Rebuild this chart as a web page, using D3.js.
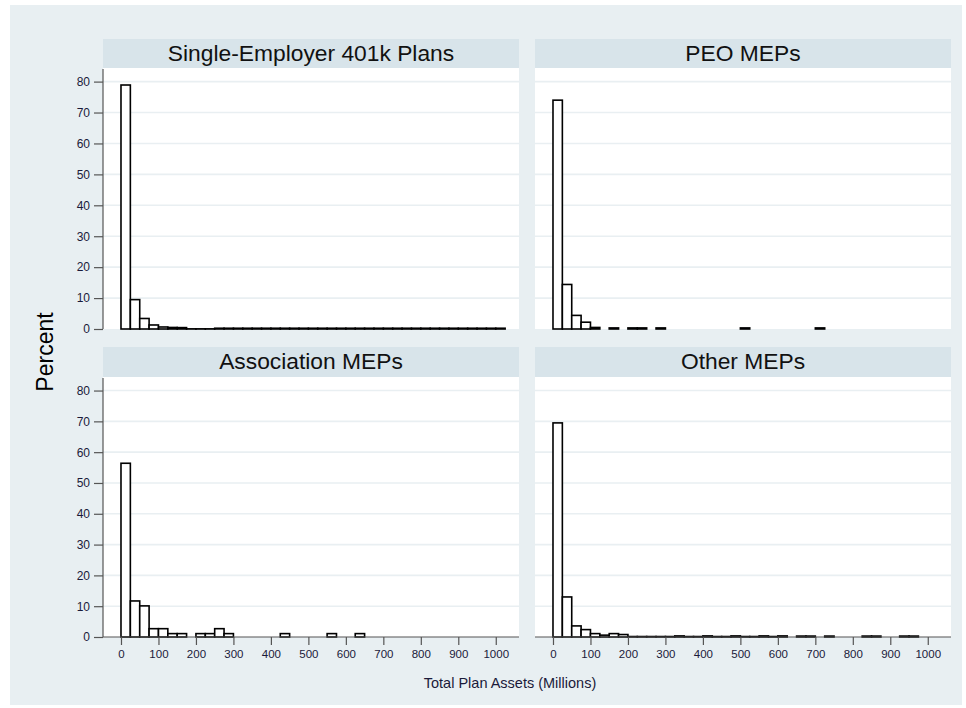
<!DOCTYPE html>
<html>
<head>
<meta charset="utf-8">
<script src="https://cdn.jsdelivr.net/npm/d3@7"></script>
<style>
  html, body { margin: 0; padding: 0; background: #ffffff; }
  svg { display: block; font-family: "Liberation Sans", Arial, sans-serif; }
</style>
</head>
<body>
<svg id="chart" width="966" height="708"></svg>
<script>
// ---- data (percent of plans per 25-million bin, starting at 0) ----
const binWidth = 25;
const panelTitles = ["Single-Employer 401k Plans", "PEO MEPs", "Association MEPs", "Other MEPs"];
const singleEmployer = [78.9, 9.5, 3.4, 1.3, 0.65, 0.5, 0.45, 0.05, 0.05, 0.05,
  0.25, 0.25, 0.25, 0.25, 0.25, 0.25, 0.25, 0.25, 0.25, 0.25,
  0.25, 0.25, 0.25, 0.25, 0.25, 0.25, 0.25, 0.25, 0.25, 0.25,
  0.25, 0.25, 0.25, 0.25, 0.25, 0.25, 0.25, 0.25, 0.25, 0.25, 0.25];
const peoMEPs = [74.0, 14.4, 4.4, 2.2, 0.5, 0, 0.35, 0, 0.35, 0.35,
  0, 0.35, 0, 0, 0, 0, 0, 0, 0, 0,
  0.35, 0, 0, 0, 0, 0, 0, 0, 0.35];
const associationMEPs = [56.4, 11.7, 10.1, 2.7, 2.7, 1.1, 1.1, 0, 1.1, 1.1,
  2.7, 1.1, 0, 0, 0, 0, 0, 1.1, 0, 0,
  0, 0, 1.1, 0, 0, 1.1];
const otherMEPs = [69.5, 13.0, 3.6, 2.4, 1.1, 0.6, 1.1, 0.8, 0.15, 0.15,
  0.15, 0.15, 0.15, 0.35, 0.15, 0.15, 0.35, 0.15, 0.15, 0.35,
  0.15, 0.15, 0.35, 0.15, 0.35, 0, 0.3, 0.3, 0, 0.3,
  0, 0, 0, 0.3, 0.3, 0, 0, 0.3, 0.3];
const yTicks = [0, 10, 20, 30, 40, 50, 60, 70, 80];
const xTicks = [0, 100, 200, 300, 400, 500, 600, 700, 800, 900, 1000];
const yAxisTitle = "Percent";
const xAxisTitle = "Total Plan Assets (Millions)";

// ---- layout ----
const svg = d3.select("#chart");
const bgColor = "#e8eff2", stripColor = "#d8e4ea", gridColor = "#e9eff2";

svg.append("rect").attr("x", 10).attr("y", 5).attr("width", 952).attr("height", 700).attr("fill", bgColor);

const panelW = 416;
const panels = [
  { title: panelTitles[0], data: singleEmployer, x0: 103, stripY: 39, y0: 68, h: 261, showY: true, showX: false },
  { title: panelTitles[1], data: peoMEPs, x0: 535, stripY: 39, y0: 68, h: 261, showY: false, showX: false },
  { title: panelTitles[2], data: associationMEPs, x0: 103, stripY: 347, y0: 377, h: 260, showY: true, showX: true },
  { title: panelTitles[3], data: otherMEPs, x0: 535, stripY: 347, y0: 377, h: 260, showY: false, showX: true }
];

panels.forEach(p => {
  const g = svg.append("g");
  // strip
  g.append("rect").attr("x", p.x0).attr("y", p.stripY).attr("width", panelW).attr("height", p.y0 - p.stripY).attr("fill", stripColor);
  g.append("text").attr("x", p.x0 + panelW / 2).attr("y", p.stripY + 22)
    .attr("text-anchor", "middle").attr("font-size", "22.8px").attr("fill", "#111").text(p.title);
  // plot area
  g.append("rect").attr("x", p.x0).attr("y", p.y0).attr("width", panelW).attr("height", p.h).attr("fill", "#ffffff");

  const x = d3.scaleLinear().domain([-48, 1062]).range([p.x0, p.x0 + panelW]);
  const y = d3.scaleLinear().domain([0, 84.4]).range([p.y0 + p.h, p.y0]);

  // gridlines
  g.selectAll(".grid").data(yTicks.filter(t => t > 0)).enter().append("line")
    .attr("x1", p.x0).attr("x2", p.x0 + panelW)
    .attr("y1", d => y(d)).attr("y2", d => y(d))
    .attr("stroke", gridColor).attr("stroke-width", 1.6);

  // bars
  const bars = p.data.map((v, i) => ({ lo: i * binWidth, hi: (i + 1) * binWidth, v })).filter(b => b.v > 0);
  g.selectAll(".bar").data(bars).enter().append("rect")
    .attr("x", b => x(b.lo)).attr("width", b => x(b.hi) - x(b.lo))
    .attr("y", b => y(b.v)).attr("height", b => y(0) - y(b.v))
    .attr("fill", "#ffffff").attr("stroke", "#000").attr("stroke-width", 1.6);

  // y axis
  if (p.showY) {
    const ax = g.append("g").attr("transform", `translate(${p.x0},0)`)
      .call(d3.axisLeft(y).tickValues(yTicks).tickSize(9).tickPadding(4).tickFormat(d3.format("d")));
    ax.select(".domain").attr("stroke", "#555").attr("stroke-width", 1.2).attr("d", `M0,${p.y0 + 1}V${y(0)}`);
    ax.selectAll(".tick line").attr("stroke", "#555").attr("stroke-width", 1.2);
    ax.selectAll(".tick text").attr("font-size", "12px").attr("fill", "#1a1a3a").attr("font-family", "Liberation Sans, Arial, sans-serif");
  }
  // x axis
  if (p.showX) {
    const ax = g.append("g").attr("transform", `translate(0,${y(0)})`)
      .call(d3.axisBottom(x).tickValues(xTicks).tickSize(8).tickPadding(5).tickFormat(d3.format("d")));
    ax.select(".domain").attr("stroke", "#555").attr("stroke-width", 1.2).attr("d", `M${p.x0},0H${p.x0 + panelW}`);
    ax.selectAll(".tick line").attr("stroke", "#555").attr("stroke-width", 1.2);
    ax.selectAll(".tick text").attr("font-size", "11.5px").attr("fill", "#1a1a3a").attr("font-family", "Liberation Sans, Arial, sans-serif");
  }
});

// axis titles
svg.append("text").attr("transform", "translate(53,352) rotate(-90)")
  .attr("text-anchor", "middle").attr("font-size", "23px").attr("fill", "#000").text(yAxisTitle);
svg.append("text").attr("x", 510).attr("y", 688)
  .attr("text-anchor", "middle").attr("font-size", "14.5px").attr("fill", "#1a1a3a").text(xAxisTitle);
</script>
</body>
</html>
